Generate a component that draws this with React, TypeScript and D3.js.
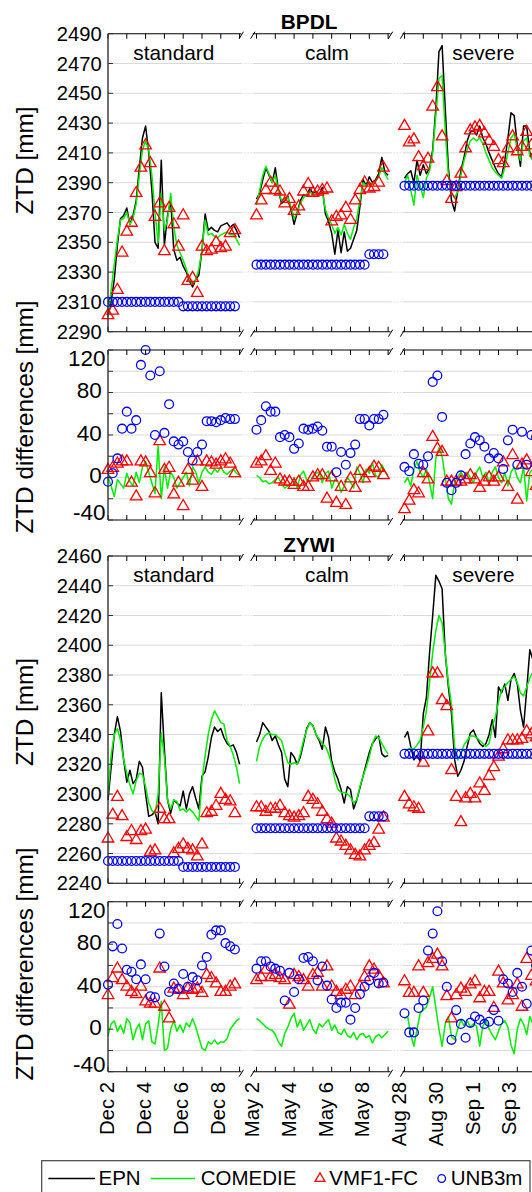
import React from 'react';
import * as d3 from 'd3';

// lines are 4-hourly, markers 6-hourly, counted in days from the first day of each period
const LINE_STEP = 1 / 6;
const MARK_STEP = 1 / 4;

const periodNames = ['standard', 'calm', 'severe'];
const dateLabels = [
  ['Dec 2', 'Dec 4', 'Dec 6', 'Dec 8'],
  ['May 2', 'May 4', 'May 6', 'May 8'],
  ['Aug 28', 'Aug 30', 'Sep 1', 'Sep 3'],
];
const dateLabelDays = [0, 2, 4, 6];

const ztdTicksBPDL = [2290, 2310, 2330, 2350, 2370, 2390, 2410, 2430, 2450, 2470, 2490];
const ztdTicksZYWI = [2240, 2260, 2280, 2300, 2320, 2340, 2360, 2380, 2400, 2420, 2440, 2460];
const diffTicks = [-40, -20, 0, 20, 40, 60, 80, 100, 120];
const diffTickLabels = [-40, 0, 40, 80, 120];

const legendNames = ['EPN', 'COMEDIE', 'VMF1-FC', 'UNB3m'];

// ---------- BPDL, ZTD ----------
const bpdlEpnStandard = [2300, 2310, 2325, 2348, 2366, 2368, 2373, 2362, 2368, 2378, 2400, 2420, 2428, 2410, 2385, 2350, 2346, 2405, 2348, 2368, 2378, 2345, 2338, 2340, 2334, 2330, 2324, 2320, 2325, 2328, 2345, 2369, 2358, 2360, 2358, 2357, 2361, 2362, 2363, 2360, 2362, 2358, 2353];
const bpdlComStandard = [2300, 2318, 2335, 2352, 2365, 2366, 2370, 2362, 2366, 2376, 2395, 2412, 2418, 2412, 2395, 2370, 2350, 2383, 2358, 2365, 2383, 2360, 2348, 2343, 2338, 2332, 2325, 2322, 2325, 2332, 2345, 2365, 2355, 2356, 2354, 2353, 2355, 2356, 2357, 2355, 2355, 2352, 2348];
const bpdlVmfStandard = [2301, 2304, 2318, 2343, 2357, 2363, 2383, 2400, 2415, 2403, 2367, 2376, 2344, 2373, 2362, 2347, 2368, 2324, 2326, 2316, 2347, 2344, 2345, 2350, 2346, 2347, 2356, 2358];
const bpdlUnbStandard = [2310, 2310, 2310, 2310, 2310, 2310, 2310, 2310, 2310, 2310, 2310, 2310, 2310, 2310, 2310, 2310, 2307, 2307, 2307, 2307, 2307, 2307, 2307, 2307, 2307, 2307, 2307, 2307];

const bpdlEpnCalm = [2379, 2383, 2392, 2400, 2395, 2390, 2400, 2385, 2376, 2378, 2381, 2372, 2362, 2370, 2378, 2382, 2381, 2386, 2383, 2384, 2382, 2387, 2369, 2364, 2356, 2342, 2358, 2343, 2357, 2344, 2346, 2352, 2358, 2374, 2392, 2388, 2394, 2390, 2392, 2396, 2407, 2397, 2395];
const bpdlComCalm = [2375, 2385, 2395, 2401, 2396, 2390, 2395, 2384, 2378, 2380, 2380, 2374, 2366, 2370, 2376, 2380, 2382, 2384, 2382, 2383, 2382, 2384, 2372, 2366, 2362, 2356, 2360, 2355, 2362, 2356, 2352, 2360, 2366, 2378, 2390, 2388, 2390, 2389, 2391, 2394, 2400, 2396, 2392];
const bpdlVmfCalm = [2368, 2378, 2385, 2390, 2385, 2384, 2376, 2379, 2371, 2374, 2384, 2389, 2383, 2384, 2385, 2386, 2364, 2367, 2368, 2373, 2365, 2378, 2385, 2390, 2386, 2387, 2390, 2400];
const bpdlUnbCalm = [2335, 2335, 2335, 2335, 2335, 2335, 2335, 2335, 2335, 2335, 2335, 2335, 2335, 2335, 2335, 2335, 2335, 2335, 2335, 2335, 2335, 2335, 2335, 2335, 2342, 2342, 2342, 2342];

const bpdlEpnSevere = [2393, 2396, 2398, 2390, 2405, 2395, 2402, 2396, 2400, 2412, 2440, 2478, 2482, 2440, 2400, 2378, 2371, 2385, 2398, 2407, 2418, 2424, 2425, 2422, 2428, 2420, 2416, 2410, 2405, 2400, 2396, 2394, 2405, 2420, 2437, 2435, 2415, 2401, 2428, 2428, 2410, 2405, 2415, 2420];
const bpdlComSevere = [2390, 2395, 2385, 2375, 2395, 2388, 2380, 2393, 2398, 2410, 2435, 2460, 2462, 2425, 2395, 2383, 2380, 2384, 2395, 2405, 2412, 2418, 2420, 2418, 2420, 2416, 2410, 2405, 2400, 2397, 2395, 2393, 2400, 2410, 2420, 2423, 2412, 2405, 2418, 2420, 2408, 2405, 2410, 2415];
const bpdlVmfSevere = [2428, 2417, 2419, 2407, 2401, 2406, 2441, 2454, 2421, 2391, 2379, 2387, 2396, 2413, 2425, 2427, 2428, 2423, 2418, 2414, 2405, 2403, 2413, 2421, 2411, 2414, 2424, 2415, 2410];
const bpdlUnbSevere = [2388, 2388, 2388, 2388, 2388, 2388, 2388, 2388, 2388, 2388, 2388, 2388, 2388, 2388, 2388, 2388, 2388, 2388, 2388, 2388, 2388, 2388, 2388, 2388, 2388, 2388, 2388, 2388, 2388];

// ---------- BPDL, differences ----------
const bpdlDComStandard = [0, -8, -18, -2, -6, -10, 4, -4, -8, 5, -5, 10, 15, 5, -5, -15, 30, -20, 10, -10, 5, 0, -10, -5, 0, 5, -8, 10, 5, -5, 5, 10, 5, 3, 8, 5, 10, 5, 3, 6, 8, 4, 2];
const bpdlDVmfStandard = [7, 9, 13, 15, 15, -5, -18, 15, 14, 4, -15, 34, 7, 9, -16, -5, -27, 7, -3, 15, -9, 15, 14, 12, 15, 17, 13, 4];
const bpdlDUnbStandard = [-4, 4, 18, 46, 62, 46, 54, 106, 120, 96, 40, 100, 42, 69, 34, 31, 34, 24, 16, 24, 31, 53, 53, 52, 54, 56, 55, 55];

const bpdlDComCalm = [2, 0, -4, -3, -6, -5, -2, 0, -6, -10, -8, -6, 0, -10, 2, 6, -2, -4, 0, 4, 5, -5, 4, 6, -10, -2, -4, -14, -8, 0, -4, -10, 10, 4, -5, 8, 4, 14, 2, 0, 12, 6, 2];
const bpdlDVmfCalm = [13, 15, 20, 6, 13, -2, -4, -4, -7, -4, -9, -9, 0, 2, 2, -20, 0, -24, -9, -26, -1, -10, 6, -1, 4, 10, 9, 2];
const bpdlDUnbCalm = [45, 54, 67, 62, 62, 38, 40, 38, 27, 32, 46, 45, 46, 48, 44, 29, 29, 5, 24, 12, 23, 31, 55, 55, 49, 55, 55, 59];

const bpdlDComSevere = [-5, 0, -8, 8, 15, 5, 0, 8, -5, -20, 18, 28, 20, 0, -20, -25, -4, 0, 5, 0, 5, 0, -5, 5, 10, 0, 5, -5, 5, 10, 0, -5, 5, -8, 5, 10, 0, -5, 10, -22, 5, 8, 10, 0];
const bpdlDVmfSevere = [-30, -22, -12, -15, 4, -2, 38, 27, 24, -4, -4, -4, -4, -2, 2, -2, -10, -4, 0, -4, 0, 14, -9, 21, -21, 12, 16, 5, -8];
const bpdlDUnbSevere = [10, 6, 22, 13, 12, 20, 90, 96, 57, -5, -12, -5, 2, 22, 32, 38, 35, 29, 18, 23, 18, 8, 35, 45, 12, 43, 12, 40, 38];

// ---------- ZYWI, ZTD ----------
const zywiEpnStandard = [2296, 2318, 2340, 2352, 2342, 2323, 2308, 2316, 2307, 2310, 2322, 2318, 2300, 2285, 2286, 2288, 2280, 2368, 2330, 2296, 2287, 2296, 2294, 2292, 2302, 2290, 2300, 2305, 2297, 2290, 2312, 2315, 2325, 2338, 2345, 2342, 2344, 2338, 2334, 2332, 2333, 2328, 2320];
const zywiComStandard = [2300, 2326, 2340, 2344, 2336, 2323, 2314, 2306, 2300, 2309, 2314, 2313, 2305, 2294, 2289, 2287, 2300, 2341, 2325, 2296, 2290, 2296, 2295, 2289, 2290, 2288, 2290, 2288, 2285, 2282, 2309, 2326, 2340, 2350, 2356, 2352, 2348, 2347, 2336, 2332, 2326, 2318, 2307];
const zywiVmfStandard = [2270, 2286, 2298, 2285, 2271, 2275, 2269, 2275, 2276, 2261, 2262, 2290, 2283, 2283, 2260, 2263, 2266, 2263, 2262, 2258, 2266, 2287, 2288, 2292, 2300, 2296, 2295, 2287];
const zywiUnbStandard = [2255, 2255, 2255, 2255, 2255, 2255, 2255, 2255, 2255, 2255, 2255, 2255, 2255, 2255, 2255, 2255, 2251, 2251, 2251, 2251, 2251, 2251, 2251, 2251, 2251, 2251, 2251, 2251];

const zywiEpnCalm = [2335, 2340, 2348, 2345, 2342, 2336, 2339, 2333, 2328, 2310, 2305, 2328, 2325, 2320, 2325, 2334, 2344, 2348, 2346, 2340, 2336, 2330, 2345, 2338, 2322, 2315, 2310, 2303, 2294, 2305, 2303, 2290, 2296, 2304, 2312, 2320, 2328, 2334, 2337, 2339, 2327, 2325, 2326];
const zywiComCalm = [2322, 2332, 2337, 2340, 2341, 2340, 2340, 2338, 2336, 2328, 2321, 2320, 2321, 2320, 2327, 2336, 2343, 2348, 2346, 2340, 2337, 2334, 2332, 2327, 2320, 2310, 2303, 2301, 2301, 2300, 2298, 2294, 2296, 2305, 2312, 2318, 2325, 2334, 2339, 2338, 2334, 2330, 2327];
const zywiVmfCalm = [2291, 2291, 2288, 2290, 2290, 2292, 2287, 2285, 2284, 2285, 2287, 2298, 2296, 2293, 2288, 2283, 2280, 2270, 2268, 2265, 2262, 2259, 2258, 2262, 2265, 2267, 2276, 2284];
const zywiUnbCalm = [2277, 2277, 2277, 2277, 2277, 2277, 2277, 2277, 2277, 2277, 2277, 2277, 2277, 2277, 2277, 2277, 2277, 2277, 2277, 2277, 2277, 2277, 2277, 2277, 2285, 2285, 2285, 2285];

const zywiEpnSevere = [2338, 2342, 2332, 2323, 2326, 2322, 2354, 2365, 2395, 2420, 2447, 2443, 2438, 2395, 2372, 2354, 2323, 2312, 2316, 2322, 2332, 2341, 2343, 2338, 2334, 2332, 2334, 2340, 2350, 2338, 2372, 2368, 2374, 2363, 2377, 2381, 2374, 2356, 2345, 2370, 2397, 2390, 2385, 2388];
const zywiComSevere = [2330, 2330, 2331, 2330, 2333, 2336, 2345, 2356, 2375, 2395, 2410, 2420, 2415, 2395, 2375, 2360, 2332, 2323, 2327, 2333, 2336, 2339, 2339, 2338, 2336, 2334, 2332, 2334, 2345, 2352, 2362, 2370, 2372, 2375, 2377, 2379, 2375, 2368, 2366, 2372, 2378, 2382, 2383, 2385];
const zywiVmfSevere = [2298, 2293, 2291, 2290, 2321, 2342, 2381, 2381, 2363, 2359, 2316, 2298, 2281, 2297, 2300, 2297, 2307, 2302, 2312, 2318, 2325, 2330, 2336, 2336, 2336, 2337, 2342, 2340, 2338];
const zywiUnbSevere = [2327, 2327, 2327, 2327, 2327, 2327, 2327, 2327, 2327, 2327, 2327, 2327, 2327, 2327, 2327, 2327, 2327, 2327, 2327, 2327, 2327, 2327, 2327, 2327, 2327, 2327, 2327, 2327, 2327];

// ---------- ZYWI, differences ----------
const zywiDComStandard = [-6, 5, 8, -2, 4, -4, 10, 6, -10, 0, 5, -10, 5, 8, -12, -14, 4, 26, -20, -18, 0, 8, -2, 4, -3, 6, 2, 10, 2, -8, -18, -20, -12, -14, -10, -14, -12, -12, -9, 0, 4, 8, 10];
const zywiDVmfStandard = [32, 48, 57, 46, 40, 35, 33, 40, 26, 24, 24, 57, 21, 10, 38, 37, 32, 38, 37, 38, 34, 51, 48, 43, 35, 35, 40, 42];
const zywiDUnbStandard = [42, 78, 99, 76, 56, 54, 47, 61, 47, 31, 30, 90, 59, 35, 43, 38, 52, 40, 49, 46, 60, 68, 89, 93, 93, 81, 78, 75];

const zywiDComCalm = [10, 8, 5, 2, 0, -1, -5, -12, -16, -4, 2, 10, 15, 2, 9, -1, 4, 9, 0, -4, 5, 2, 6, 9, -1, 4, -3, -5, 0, -6, -8, -3, -10, -5, -4, -8, -6, -13, -7, -5, -8, -5, -2];
const zywiDVmfCalm = [46, 49, 56, 49, 51, 48, 46, 23, 51, 49, 46, 40, 51, 53, 40, 59, 40, 35, 32, 37, 40, 32, 40, 49, 59, 56, 50, 43];
const zywiDUnbCalm = [57, 64, 64, 59, 57, 55, 27, 53, 35, 47, 67, 68, 64, 46, 59, 41, 28, 20, 25, 25, 9, 20, 33, 40, 46, 53, 43, 44];

const zywiDComSevere = [10, 12, -5, -16, 0, 15, 18, 21, 30, 40, 20, 0, -16, 5, 12, -7, -10, 0, 9, 3, 8, 2, 5, 3, -16, 3, 8, 0, -5, -10, -2, 5, 8, 2, -15, -23, 0, 10, 5, -5, 12, 5, 0, 3];
const zywiDVmfSevere = [45, 34, 34, 59, 34, 62, 66, 70, 59, 31, 10, 32, 38, 35, 42, 45, 29, 35, 35, 20, 54, 43, 27, 32, 42, 21, 66, 50, 45];
const zywiDUnbSevere = [15, -3, -3, 20, 27, 74, 90, 111, 64, 40, -10, 18, 5, -8, 6, 12, 9, 5, 7, 18, 8, 47, 43, 35, 53, 40, 24, 74, 60];

// ---------- layout ----------
const W = 532;
const H = 1192;
const LEFT = 108;
const DAY_PX = 18.8;
const SEG_X0 = [108, 256.5, 404.5];
const SEG_EXTENT: [number, number][] = [[0, 7.09], [-0.197, 7.128], [-0.106, 7.6]];
const LABEL_X0 = [107.2, 252, 399];
const LABEL_DAY_PX = 18.37;
const PERIOD_LABEL_DAY = [3.5, 3.75, 4.2];
const FONT = "'Liberation Sans', Arial, Helvetica, sans-serif";
const GREEN = '#00ee00';

const xScales = SEG_X0.map(x0 => d3.scaleLinear().domain([0, 7]).range([x0, x0 + 7 * DAY_PX]));
const labelScales = LABEL_X0.map(x0 => d3.scaleLinear().domain([0, 6]).range([x0, x0 + 6 * LABEL_DAY_PX]));

type Seg = { epn?: number[]; com: number[]; vmf: number[]; unb: number[] };
type PanelSpec = {
  title?: string;
  top: number;
  bottom: number;
  domain: [number, number];
  ticks: number[];
  labels: number[];
  diff: boolean;
  yTitle: string;
  yTitleY: number;
  segs: Seg[];
};

const panels: PanelSpec[] = [
  {
    title: 'BPDL', top: 33.7, bottom: 331.7, domain: [2290, 2490], ticks: ztdTicksBPDL, labels: ztdTicksBPDL,
    diff: false, yTitle: 'ZTD [mm]', yTitleY: 160.5,
    segs: [
      { epn: bpdlEpnStandard, com: bpdlComStandard, vmf: bpdlVmfStandard, unb: bpdlUnbStandard },
      { epn: bpdlEpnCalm, com: bpdlComCalm, vmf: bpdlVmfCalm, unb: bpdlUnbCalm },
      { epn: bpdlEpnSevere, com: bpdlComSevere, vmf: bpdlVmfSevere, unb: bpdlUnbSevere },
    ],
  },
  {
    top: 350, bottom: 520, domain: [-40, 120], ticks: diffTicks, labels: diffTickLabels,
    diff: true, yTitle: 'ZTD differences [mm]', yTitleY: 417,
    segs: [
      { com: bpdlDComStandard, vmf: bpdlDVmfStandard, unb: bpdlDUnbStandard },
      { com: bpdlDComCalm, vmf: bpdlDVmfCalm, unb: bpdlDUnbCalm },
      { com: bpdlDComSevere, vmf: bpdlDVmfSevere, unb: bpdlDUnbSevere },
    ],
  },
  {
    title: 'ZYWI', top: 556, bottom: 883.3, domain: [2240, 2460], ticks: ztdTicksZYWI, labels: ztdTicksZYWI,
    diff: false, yTitle: 'ZTD [mm]', yTitleY: 712,
    segs: [
      { epn: zywiEpnStandard, com: zywiComStandard, vmf: zywiVmfStandard, unb: zywiUnbStandard },
      { epn: zywiEpnCalm, com: zywiComCalm, vmf: zywiVmfCalm, unb: zywiUnbCalm },
      { epn: zywiEpnSevere, com: zywiComSevere, vmf: zywiVmfSevere, unb: zywiUnbSevere },
    ],
  },
  {
    top: 901.7, bottom: 1071.7, domain: [-40, 120], ticks: diffTicks, labels: diffTickLabels,
    diff: true, yTitle: 'ZTD differences [mm]', yTitleY: 964,
    segs: [
      { com: zywiDComStandard, vmf: zywiDVmfStandard, unb: zywiDUnbStandard },
      { com: zywiDComCalm, vmf: zywiDVmfCalm, unb: zywiDUnbCalm },
      { com: zywiDComSevere, vmf: zywiDVmfSevere, unb: zywiDUnbSevere },
    ],
  },
];

const triangle = d3.symbol().type(d3.symbolTriangle).size(58)() as string;
const legendTriangle = d3.symbol().type(d3.symbolTriangle).size(42)() as string;

const Slash: React.FC<{ x: number; y: number }> = ({ x, y }) => (
  <line x1={x - 2.2} y1={y + 5} x2={x + 2.2} y2={y - 2} stroke="#000" strokeWidth={1} />
);

const Panel: React.FC<{ spec: PanelSpec }> = ({ spec }) => {
  const y = d3.scaleLinear().domain(spec.domain).range([spec.bottom, spec.top]);
  const segPx = SEG_EXTENT.map(([a, b], i) => [xScales[i](a), Math.min(xScales[i](b), W + 10)]);
  const gaps = [[segPx[0][1], segPx[1][0]], [segPx[1][1], segPx[2][0]]];
  const inner = spec.ticks.filter(t => t !== spec.domain[0] && t !== spec.domain[1]);

  const days = (i: number) =>
    d3.range(0, 9).filter(d => d >= SEG_EXTENT[i][0] && d <= SEG_EXTENT[i][1] && xScales[i](d) <= W + 2);

  return (
    <g>
      {/* grid */}
      {inner.map(t => (
        <g key={'grid' + t}>
          {segPx.map(([a, b], i) => (
            <line key={i} x1={i === 0 ? LEFT : a} x2={b} y1={y(t)} y2={y(t)} stroke="#d9d9d9" strokeWidth={1} />
          ))}
          {gaps.map(([a, b], i) => (
            <line key={'gap' + i} x1={a} x2={b} y1={y(t)} y2={y(t)} stroke="#dcdcdc" strokeDasharray="1.5 1.5" />
          ))}
        </g>
      ))}

      {/* series */}
      {spec.segs.map((s, i) => {
        const xs = xScales[i];
        const line = d3.line<number>().x((_, k) => xs(k * LINE_STEP)).y(v => y(v));
        return (
          <g key={'seg' + i}>
            {s.epn && <path d={line(s.epn) as string} fill="none" stroke="#000" strokeWidth={1.5} strokeLinejoin="round" />}
            <path d={line(s.com) as string} fill="none" stroke={GREEN} strokeWidth={1.5} strokeLinejoin="round" />
            {s.vmf.map((v, k) => (
              <path key={'t' + k} d={triangle} transform={`translate(${xs(k * MARK_STEP)},${y(v)})`}
                fill="none" stroke="#ff0000" strokeWidth={1.3} />
            ))}
            {s.unb.map((v, k) => (
              <circle key={'c' + k} cx={xs(k * MARK_STEP)} cy={y(v)} r={4.4} fill="none" stroke="#0000ff" strokeWidth={1.3} />
            ))}
          </g>
        );
      })}

      {/* top and bottom axes with breaks */}
      {[spec.top, spec.bottom].map((yy, j) => (
        <g key={'ax' + j}>
          {segPx.map(([a, b], i) => (
            <line key={i} x1={a} x2={b} y1={yy} y2={yy} stroke="#000" strokeWidth={1.1} />
          ))}
          {gaps.map(([a, b], i) => (
            <g key={'sl' + i}>
              <Slash x={a} y={yy} />
              <Slash x={b} y={yy} />
            </g>
          ))}
          {[0, 1, 2].map(i =>
            days(i).map(d => (
              <line key={i + '-' + d} x1={xScales[i](d)} x2={xScales[i](d)} y1={yy}
                y2={j === 0 ? yy + 5 : yy - 5} stroke="#000" strokeWidth={1} />
            ))
          )}
        </g>
      ))}

      {/* left axis */}
      <line x1={LEFT} x2={LEFT} y1={spec.top} y2={spec.bottom} stroke="#333" strokeWidth={1.4} />
      {spec.ticks.map(t => (
        <line key={'yt' + t} x1={LEFT} x2={LEFT + 5} y1={y(t)} y2={y(t)} stroke="#333" strokeWidth={1} />
      ))}
      {spec.labels.map(t => {
        const edge = spec.diff && (t === spec.domain[0] || t === spec.domain[1]);
        const shift = !spec.diff ? 0 : t === spec.domain[1] ? 8 : t === spec.domain[0] ? -8 : -2;
        return (
          <text key={'yl' + t} x={edge ? 105.5 : 101.7} y={y(t) + shift} dy="0.35em" textAnchor="end"
            fontSize={spec.diff ? 22.5 : 20.2} fill="#000">
            {t}
          </text>
        );
      })}

      {/* y title */}
      <text transform={`translate(24.5,${spec.yTitleY}) rotate(-90)`} textAnchor="middle" dy="0.35em" fontSize={24.3}>
        {spec.yTitle}
      </text>

      {/* title and period names */}
      {spec.title && (
        <text x={xScales[1](2.8)} y={spec.top - 4.5} textAnchor="middle" fontWeight="bold" fontSize={20.8}>
          {spec.title}
        </text>
      )}
      {!spec.diff &&
        periodNames.map((n, i) => (
          <text key={n} x={xScales[i](PERIOD_LABEL_DAY[i])} y={spec.top + 26} textAnchor="middle" fontSize={20.8}>
            {n}
          </text>
        ))}
    </g>
  );
};

const App: React.FC = () => {
  const axisY = panels[3].bottom;
  const legendY = 1178.5;
  return (
    <svg width={W} height={H} style={{ position: 'absolute', left: 0, top: 0, display: 'block', background: '#fff' }}
      fontFamily={FONT}>
      <rect x={0} y={0} width={W} height={H} fill="#fff" />
      {panels.map((p, i) => (
        <Panel key={i} spec={p} />
      ))}

      {/* date labels */}
      {dateLabels.map((labs, i) =>
        labs.map((lab, j) => (
          <text key={lab} transform={`translate(${labelScales[i](dateLabelDays[j])},${axisY + 10.3}) rotate(-90)`}
            textAnchor="end" dy="0.35em" fontSize={20.3}>
            {lab}
          </text>
        ))
      )}

      {/* legend */}
      <rect x={41.7} y={1160.7} width={488.3} height={45} fill="#fff" stroke="#444" strokeWidth={1.2} />
      <line x1={48.3} x2={95} y1={legendY} y2={legendY} stroke="#000" strokeWidth={1.5} />
      <text x={98.5} y={1185} fontSize={20.5}>{legendNames[0]}</text>
      <line x1={150.7} x2={195} y1={legendY} y2={legendY} stroke={GREEN} strokeWidth={1.5} />
      <text x={200.7} y={1185} fontSize={20.5}>{legendNames[1]}</text>
      <path d={legendTriangle} transform={`translate(320,${legendY})`} fill="none" stroke="#ff0000" strokeWidth={1.3} />
      <text x={329.3} y={1185} fontSize={20.5}>{legendNames[2]}</text>
      <circle cx={441.7} cy={legendY} r={3.8} fill="none" stroke="#0000ff" strokeWidth={1.3} />
      <text x={450.7} y={1185} fontSize={20.5}>{legendNames[3]}</text>
    </svg>
  );
};

export default App;
